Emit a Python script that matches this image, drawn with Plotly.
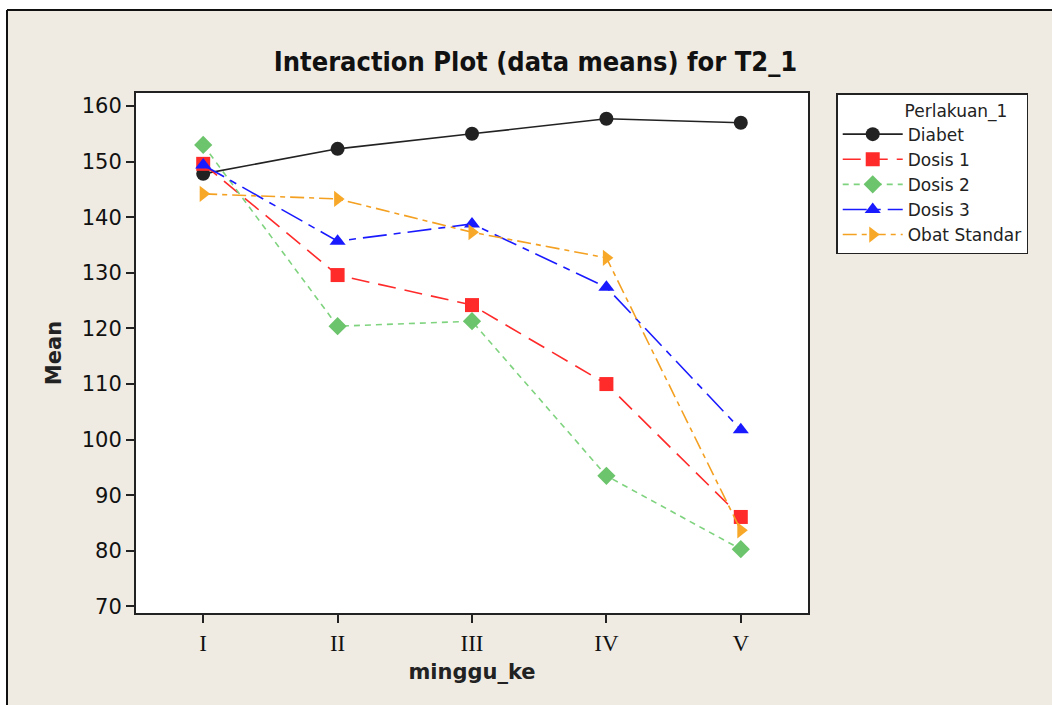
import plotly.graph_objects as go

# Weekly means of T2_1 per treatment group
weeks = ["I", "II", "III", "IV", "V"]
diabet = [147.8, 152.3, 155.0, 157.7, 157.0]
dosis_1 = [149.6, 129.6, 124.2, 110.0, 86.1]
dosis_2 = [153.0, 120.4, 121.3, 93.5, 80.3]
dosis_3 = [149.4, 135.7, 138.8, 127.4, 101.8]
obat_standar = [144.2, 143.3, 137.3, 132.7, 83.7]

y_ticks = [70, 80, 90, 100, 110, 120, 130, 140, 150, 160]

series = [
    ("Diabet", diabet, "#222222", "#222222", "solid", "circle"),
    ("Dosis 1", dosis_1, "#ff2a2a", "#ff2a2a", "18px,9px", "square"),
    ("Dosis 2", dosis_2, "#7fd37f", "#6cc46c", "6px,5px", "diamond"),
    ("Dosis 3", dosis_3, "#1a1aff", "#1a1aff", "24px,7px,7px,7px", "triangle-up"),
    ("Obat Standar", obat_standar, "#f4a020", "#f8a828", "14px,5px,5px,5px", "triangle-right"),
]

x_pos = list(range(1, len(weeks) + 1))

fig = go.Figure()
for name, vals, lc, mc, dash, sym in series:
    fig.add_trace(go.Scatter(
        x=x_pos, y=vals, name=name, mode="lines+markers",
        line=dict(color=lc, width=1.6, dash=dash),
        marker=dict(symbol=sym, size=14, color=mc, line=dict(width=0)),
    ))

fig.update_layout(
    width=1052, height=705,
    margin=dict(l=136, r=244, t=93, b=92),
    paper_bgcolor="#efebe3",
    plot_bgcolor="white",
    title=dict(
        text="<b>Interaction Plot (data means) for T2_1</b>",
        x=0.509, xanchor="center", y=0.912, yanchor="middle",
        font=dict(family="DejaVu Sans Condensed, DejaVu Sans", size=27, color="#111111"),
    ),
    font=dict(family="DejaVu Sans", color="#111111"),
    legend=dict(
        x=1.042, xanchor="left", y=1.0, yanchor="top",
        bgcolor="white", bordercolor="#222222", borderwidth=1.5,
        font=dict(size=17, family="DejaVu Sans", color="#222222"),
        title=dict(text="            Perlakuan_1  ", font=dict(size=17, color="#222222")),
        tracegroupgap=0, itemwidth=60,
    ),
    showlegend=True,
)

fig.update_xaxes(
    range=[0.5, 5.5], tickvals=x_pos, ticktext=weeks,
    showgrid=False, zeroline=False,
    showline=True, linecolor="#222222", linewidth=2, mirror=True,
    ticks="outside", ticklen=8, tickcolor="#222222", tickwidth=1.5,
    tickfont=dict(family="Liberation Serif", size=23, color="#111111"),
    title=dict(text="<b>minggu_ke</b>", font=dict(family="DejaVu Sans", size=21, color="#222222"), standoff=10),
)
fig.update_yaxes(
    range=[68.83, 162.34], tickvals=y_ticks,
    showgrid=False, zeroline=False,
    showline=True, linecolor="#222222", linewidth=2, mirror=True,
    ticks="outside", ticklen=8, tickcolor="#222222", tickwidth=1.5,
    tickfont=dict(family="DejaVu Sans", size=21, color="#111111"),
    title=dict(text="<b>Mean</b>", font=dict(family="DejaVu Sans", size=21, color="#222222"), standoff=14),
)

# White margin outside the figure frame, then the frame edges
px_x = lambda p: (p - 136) / 672
px_y = lambda p: 1 - (p - 93) / 520
fig.add_shape(type="rect", xref="paper", yref="paper", x0=px_x(-5), x1=px_x(1060),
              y0=px_y(10), y1=px_y(-5), fillcolor="white", line=dict(width=0), layer="below")
fig.add_shape(type="rect", xref="paper", yref="paper", x0=px_x(-5), x1=px_x(7),
              y0=px_y(710), y1=px_y(10), fillcolor="white", line=dict(width=0), layer="below")
fig.add_shape(type="line", xref="paper", yref="paper", x0=px_x(7), x1=px_x(1060),
              y0=px_y(10), y1=px_y(10), line=dict(color="#111111", width=2), layer="below")
fig.add_shape(type="line", xref="paper", yref="paper", x0=px_x(7), x1=px_x(7),
              y0=px_y(710), y1=px_y(10), line=dict(color="#111111", width=2), layer="below")

fig.write_html("out.html")
